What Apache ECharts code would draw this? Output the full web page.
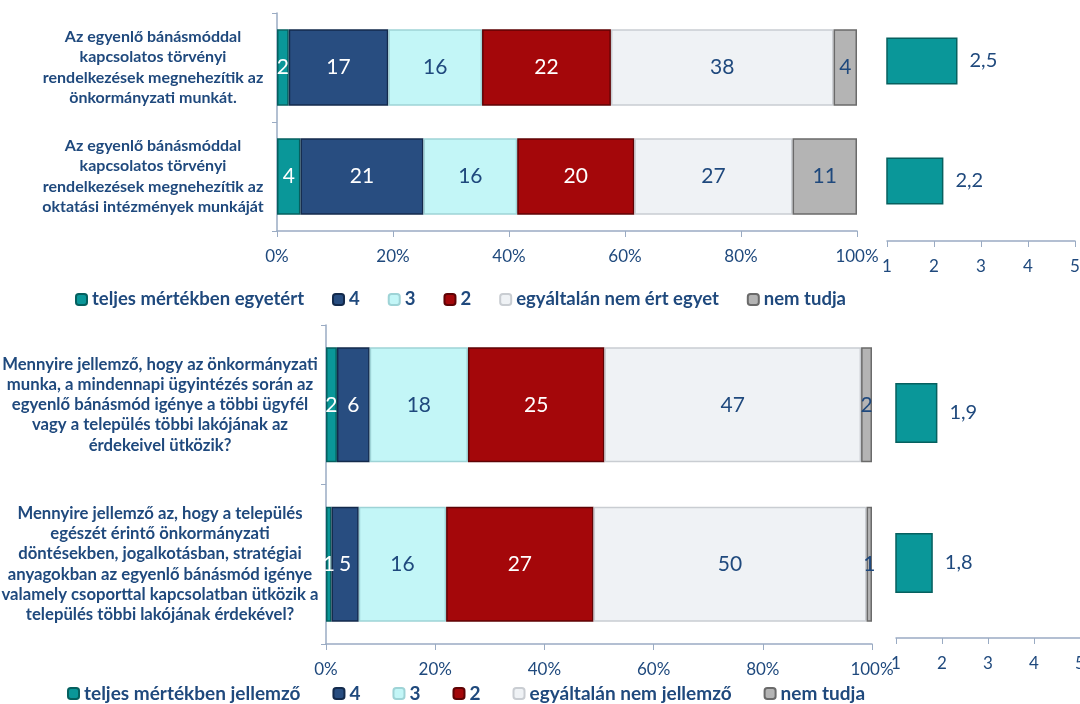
<!DOCTYPE html>
<html><head><meta charset="utf-8">
<script src="https://cdn.jsdelivr.net/npm/echarts@6/dist/echarts.min.js"></script>
<style>html,body{margin:0;padding:0;background:#fff}#c{width:1080px;height:704px}</style>
</head><body><div id="c"></div>
<script>
const cats1 = [
  'Az egyenlő bánásmóddal\nkapcsolatos törvényi\nrendelkezések megnehezítik az\nönkormányzati munkát.',
  'Az egyenlő bánásmóddal\nkapcsolatos törvényi\nrendelkezések megnehezítik az\noktatási intézmények munkáját'
];
const cats2 = [
  'Mennyire jellemző, hogy az önkormányzati\nmunka, a mindennapi ügyintézés során az\negyenlő bánásmód igénye a többi ügyfél\nvagy a település többi lakójának az\nérdekeivel ütközik?',
  'Mennyire jellemző az, hogy a település\negészét érintő önkormányzati\ndöntésekben, jogalkotásban, stratégiai\nanyagokban az egyenlő bánásmód igénye\nvalamely csoporttal kapcsolatban ütközik a\ntelepülés többi lakójának érdekével?'
];
const names1 = ['teljes mértékben egyetért', '4', '3', '2', 'egyáltalán nem ért egyet', 'nem tudja'];
const names2 = ['teljes mértékben jellemző', '4', '3', '2', 'egyáltalán nem jellemző', 'nem tudja'];
// values per answer category, one entry per question
const top_teljes = [2, 4];
const top_4 = [17, 21];
const top_3 = [16, 16];
const top_2 = [22, 20];
const top_egyaltalan = [38, 27];
const top_nemtudja = [4, 11];
const bot_teljes = [2, 1];
const bot_4 = [6, 5];
const bot_3 = [18, 16];
const bot_2 = [25, 27];
const bot_egyaltalan = [47, 50];
const bot_nemtudja = [2, 1];
const means1 = [2.5, 2.2];
const means2 = [1.9, 1.8];
const pctTicks = [0, 20, 40, 60, 80, 100];
const scaleTicks = [1, 2, 3, 4, 5];

const FONT = 'Lato';
const TXT = '#1F497D';
const fills = ['#0A9799', '#284D80', '#C3F6F7', '#A4070A', '#EFF2F5', '#B4B4B4'];
const borders = ['#05605F', '#132A4C', '#9ED3D6', '#5E0305', '#C9CDD2', '#6A6A6A'];
const labelCols = ['#FFFFFF', '#FFFFFF', TXT, '#FFFFFF', TXT, TXT];

const topSets = [top_teljes, top_4, top_3, top_2, top_egyaltalan, top_nemtudja];
const botSets = [bot_teljes, bot_4, bot_3, bot_2, bot_egyaltalan, bot_nemtudja];

function sums(sets) {
  return sets[0].map((_, i) => sets.reduce((a, s) => a + s[i], 0));
}
const topSum = sums(topSets), botSum = sums(botSets);

function stackSeries(sets, tot, names, gi, catGap) {
  return sets.map((vals, k) => ({
    type: 'bar', name: names[k], stack: 's' + gi,
    xAxisIndex: gi, yAxisIndex: gi,
    barCategoryGap: catGap,
    data: vals.map((v, i) => ({ value: v / tot[i] * 100, raw: v })),
    itemStyle: { color: fills[k], borderColor: borders[k], borderWidth: 1.5 },
    label: {
      show: true, position: 'inside', color: labelCols[k], fontFamily: FONT, fontSize: 21,
      formatter: p => String(p.data.raw)
    },
    emphasis: { disabled: true }
  }));
}

function meanSeries(vals, gi, bw) {
  return {
    type: 'bar', xAxisIndex: gi, yAxisIndex: gi, barWidth: bw,
    data: vals,
    itemStyle: { color: '#0A9799', borderColor: '#06605F', borderWidth: 1.5 },
    label: {
      show: true, position: 'right', distance: 12, color: TXT, fontFamily: FONT, fontSize: 20,
      formatter: p => String(p.value).replace('.', ',')
    },
    emphasis: { disabled: true }
  };
}

const axisLineStyle = { lineStyle: { color: '#9AABC3', width: 1.5 } };

const chart = echarts.init(document.getElementById('c'));
chart.setOption({
  animation: false,
  backgroundColor: '#fff',
  textStyle: { fontFamily: FONT },
  grid: [
    { left: 277, width: 580, top: 13, height: 218, outerBoundsMode: 'none', containLabel: false },
    { left: 887, width: 188, top: 1, height: 240, outerBoundsMode: 'none', containLabel: false },
    { left: 326, width: 546, top: 325, height: 319, outerBoundsMode: 'none', containLabel: false },
    { left: 896, width: 184, top: 338, height: 300, outerBoundsMode: 'none', containLabel: false }
  ],
  legend: [
    {
      data: names1, left: 70, top: 285, itemWidth: 11, itemHeight: 11, itemGap: 28,
      textStyle: { color: TXT, fontFamily: FONT, fontWeight: 'bold', fontSize: 18.5 }
    },
    {
      data: names2, left: 62, top: 679, itemWidth: 11, itemHeight: 11, itemGap: 32,
      textStyle: { color: TXT, fontFamily: FONT, fontWeight: 'bold', fontSize: 19 }
    }
  ],
  xAxis: [
    {
      gridIndex: 0, type: 'value', min: pctTicks[0], max: pctTicks[pctTicks.length - 1], interval: 20,
      axisLine: { show: true, ...axisLineStyle }, axisTick: { show: true, length: 6, lineStyle: { color: '#9AABC3' } },
      splitLine: { show: false },
      axisLabel: { color: TXT, fontSize: 17, fontFamily: FONT, margin: 17, formatter: '{value}%' }
    },
    {
      gridIndex: 1, type: 'value', min: scaleTicks[0], max: scaleTicks[scaleTicks.length - 1], interval: 1,
      axisLine: { show: true, ...axisLineStyle }, axisTick: { show: true, length: 6, lineStyle: { color: '#9AABC3' } },
      splitLine: { show: false },
      axisLabel: { color: TXT, fontSize: 17, fontFamily: FONT, margin: 17 }
    },
    {
      gridIndex: 2, type: 'value', min: pctTicks[0], max: pctTicks[pctTicks.length - 1], interval: 20,
      axisLine: { show: true, ...axisLineStyle }, axisTick: { show: true, length: 6, lineStyle: { color: '#9AABC3' } },
      splitLine: { show: false },
      axisLabel: { color: TXT, fontSize: 17, fontFamily: FONT, margin: 17, formatter: '{value}%' }
    },
    {
      gridIndex: 3, type: 'value', min: scaleTicks[0], max: scaleTicks[scaleTicks.length - 1], interval: 1,
      axisLine: { show: true, ...axisLineStyle }, axisTick: { show: true, length: 6, lineStyle: { color: '#9AABC3' } },
      splitLine: { show: false },
      axisLabel: { color: TXT, fontSize: 17, fontFamily: FONT, margin: 17 }
    }
  ],
  yAxis: [
    {
      gridIndex: 0, type: 'category', data: cats1, inverse: true,
      axisLine: { show: true, ...axisLineStyle }, axisTick: { show: true, length: 5, lineStyle: { color: '#9AABC3' } },
      axisLabel: { color: TXT, fontWeight: 'bold', fontSize: 16, lineHeight: 20.5, fontFamily: FONT, align: 'center', margin: 124 }
    },
    { gridIndex: 1, type: 'category', data: cats1, inverse: true, show: false },
    {
      gridIndex: 2, type: 'category', data: cats2, inverse: true,
      axisLine: { show: true, ...axisLineStyle }, axisTick: { show: true, length: 5, lineStyle: { color: '#9AABC3' } },
      axisLabel: { color: TXT, fontWeight: 'bold', fontSize: 16.7, lineHeight: 20.3, fontFamily: FONT, align: 'center', margin: 166 }
    },
    { gridIndex: 3, type: 'category', data: cats2, inverse: true, show: false }
  ],
  series: [
    ...stackSeries(topSets, topSum, names1, 0, '30%'),
    meanSeries(means1, 1, 47),
    ...stackSeries(botSets, botSum, names2, 2, '28%'),
    meanSeries(means2, 3, 60)
  ]
});
</script>
</body></html>
